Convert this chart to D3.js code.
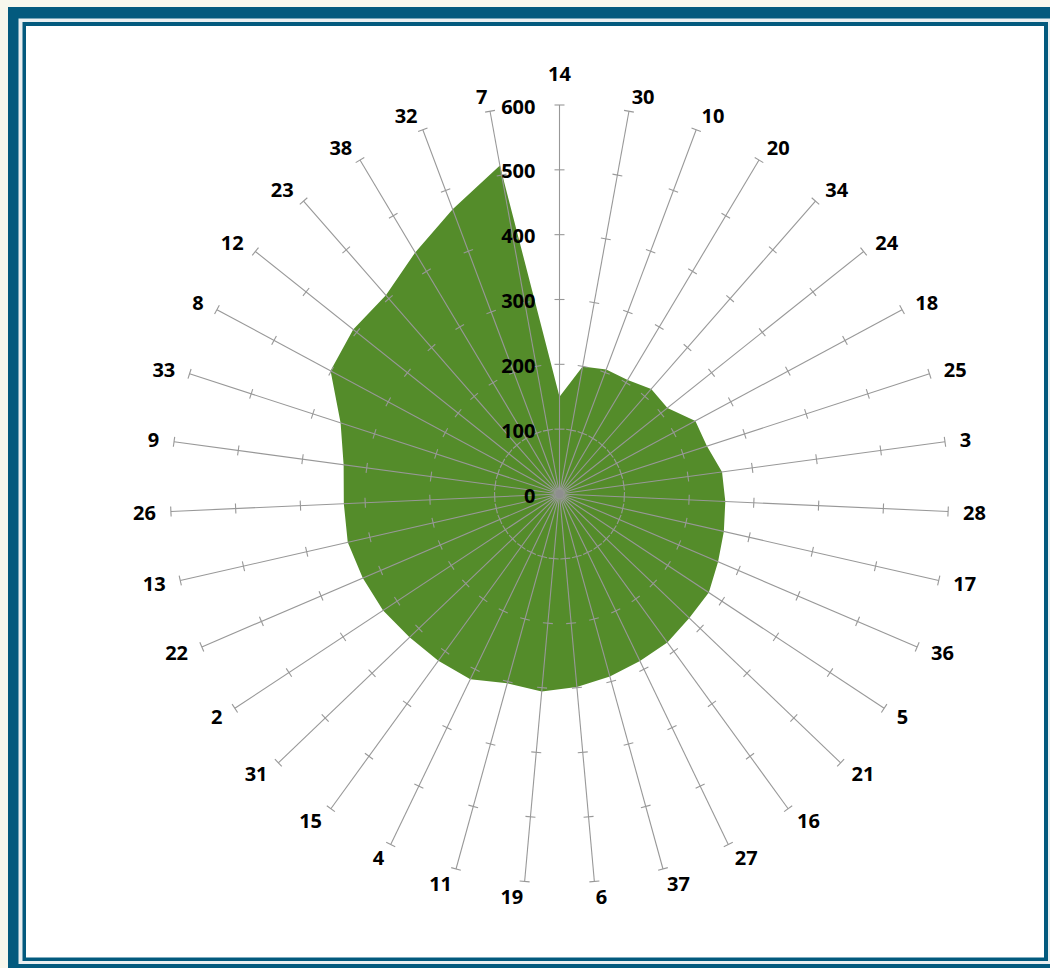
<!DOCTYPE html>
<html>
<head>
<meta charset="utf-8">
<script src="https://cdn.jsdelivr.net/npm/d3@7"></script>
<style>
  html, body { margin: 0; padding: 0; background: #F7F7ED; }
  svg { display: block; }
</style>
</head>
<body>
<svg id="chart" width="1050" height="968"></svg>
<script>
// ---- data ----
const categories = ["14","30","10","20","34","24","18","25","3","28","17","36","5","21","16","27","37","6","19","11","4","15","31","2","22","13","26","9","33","8","12","23","38","32","7"];
const values = [150,200,205,205,215,213,238,239,253,256,260,266,276,277,283,286,292,299,306,303,317,318,320,326,330,335,333,336,355,401,407,407,434,469,515];
const tickValues = [0,100,200,300,400,500,600];

// ---- layout ----
const svg = d3.select("#chart");
const W = 1050, H = 968;
const cx = 559.5, cy = 494;
const maxR = 389;
const blue = "#035A7E";

// frame
svg.append("rect").attr("x",0).attr("y",0).attr("width",W).attr("height",H).attr("fill","#F7F7ED");
svg.append("rect").attr("x",8).attr("y",7).attr("width",W+20).attr("height",H+20).attr("fill",blue);
svg.append("rect").attr("x",18.5).attr("y",18.5).attr("width",W).attr("height",964-18.5).attr("fill","#E9EFF1");
svg.append("rect").attr("x",22.5).attr("y",22).attr("width",1048-22.5).attr("height",961-22).attr("fill",blue);
svg.append("rect").attr("x",26).attr("y",26).attr("width",1044-26).attr("height",957.5-26).attr("fill","#FFFFFF");

const r = d3.scaleLinear().domain([0,600]).range([0,maxR]);
const n = categories.length;
const angle = d3.scaleLinear().domain([0,n]).range([0,2*Math.PI]);

const g = svg.append("g").attr("transform",`translate(${cx},${cy})`);

// area
const line = d3.lineRadial()
  .angle((d,i)=>angle(i))
  .radius(d=>r(d))
  .curve(d3.curveLinearClosed);
g.append("path").datum(values).attr("d",line).attr("fill","#548C2A");

// spokes with ticks
const spokeColor = "#989898";
categories.forEach((c,i)=>{
  const a = angle(i);
  const s = Math.sin(a), co = Math.cos(a);
  g.append("line")
    .attr("x1",0).attr("y1",0)
    .attr("x2",s*r(600)).attr("y2",-co*r(600))
    .attr("stroke",spokeColor).attr("stroke-width",1.1);
  tickValues.slice(1).forEach(t=>{
    const px = s*r(t), py = -co*r(t);
    const hx = co*5, hy = s*5; // perpendicular
    g.append("line")
      .attr("x1",px-hx).attr("y1",py-hy)
      .attr("x2",px+hx).attr("y2",py+hy)
      .attr("stroke",spokeColor).attr("stroke-width",1.1);
  });
});

// center blob
g.append("circle").attr("r",4).attr("fill","#8F8F8F");

const font = "'Open Sans', 'Liberation Sans', sans-serif";

// value axis labels
g.selectAll("text.val").data(tickValues).enter().append("text")
  .attr("class","val")
  .attr("x",-24)
  .attr("y",d=>-r(d)+1)
  .attr("text-anchor","end")
  .attr("dominant-baseline","central")
  .attr("font-family",font).attr("font-weight",700).attr("font-size","20px")
  .attr("fill","#000")
  .text(d=>d);

// category labels
categories.forEach((c,i)=>{
  const a = angle(i);
  const s = Math.sin(a), co = Math.cos(a);
  const ex = s*r(600), ey = -co*r(600);
  let x = ex + s*15, y = ey - co*15;
  let anchor = "middle";
  if (s > 0.01) anchor = "start"; else if (s < -0.01) anchor = "end";
  if (Math.abs(s) <= 0.01 && co > 0) y = ey - 32; // clear the value-axis labels
  g.append("text")
    .attr("x",x).attr("y",y)
    .attr("text-anchor",anchor)
    .attr("dominant-baseline","central")
    .attr("font-family",font).attr("font-weight",700).attr("font-size","20px")
    .attr("fill","#000")
    .text(c);
});
</script>
</body>
</html>
